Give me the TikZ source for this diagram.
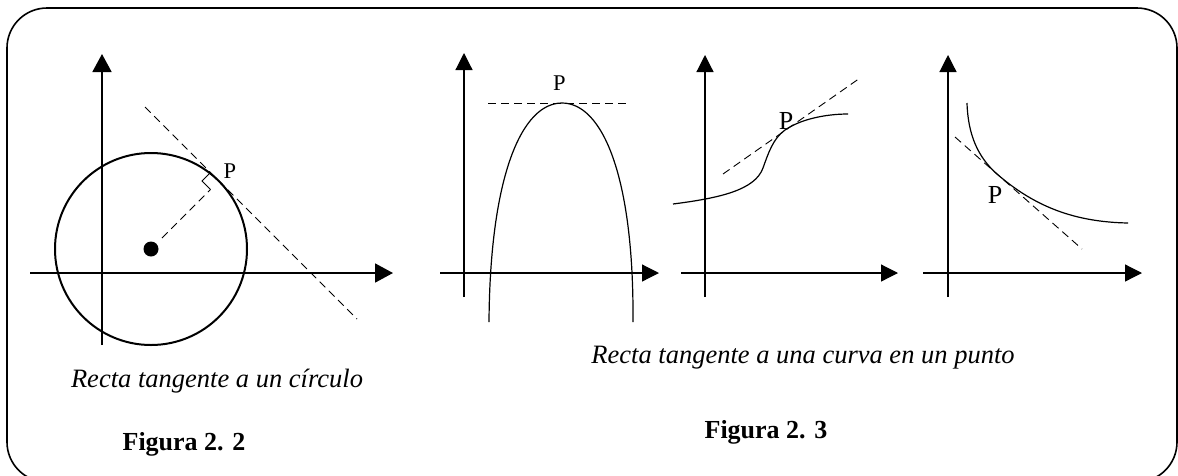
\documentclass[tikz,border=0pt]{standalone}
\usepackage{fontspec}
\setmainfont{Liberation Serif}
\usetikzlibrary{arrows.meta}
\begin{document}
\begin{tikzpicture}[x=1pt,y=-1pt,
  axisthick/.style={line width=1.8pt,-{Triangle[length=18pt,width=19pt]}},
  axisthin/.style={line width=1.2pt,-{Triangle[length=17pt,width=17pt]}},
  curvethick/.style={line width=2pt},
  curvethin/.style={line width=1.2pt},
  tang/.style={line width=0.9pt,dash pattern=on 8pt off 5pt},
  lblsmall/.style={inner sep=0pt,anchor=base,font=\fontsize{22.5}{26}\selectfont},
  lblbig/.style={inner sep=0pt,anchor=base,font=\fontsize{26}{30}\selectfont},
  captiontext/.style={inner sep=0pt,anchor=base,font=\fontsize{26.5}{30}\selectfont\itshape},
  figlbl/.style={inner sep=0pt,anchor=base,font=\fontsize{26}{30}\selectfont\bfseries}]
\useasboundingbox (0,0) rectangle (1178,475);
\clip (0,0) rectangle (1178,475);
% frame
\draw[line width=1.6pt, rounded corners=40pt] (7,8) rectangle (1177,482);

% ---------- Figura 2.2 ----------
\coordinate (yb1) at (102,345); \coordinate (yt1) at (102,54);
\coordinate (xl1) at (30,273);  \coordinate (xr1) at (393,273);
\coordinate (o1) at (151,249);
\coordinate (ta1) at (145,107); \coordinate (tb1) at (357,319);
\coordinate (ra1) at (162,238); \coordinate (m1) at (210.5,189.5);
\coordinate (m2) at (202,181);  \coordinate (m3) at (210.5,172.5);
\draw[axisthick] (yb1) -- (yt1);
\draw[axisthick] (xl1) -- (xr1);
\draw[curvethick] (o1) circle[radius=96pt];
\fill (o1) circle[radius=7.5pt];
\draw[tang] (ta1) -- (tb1);
\draw[tang] (ra1) -- (m1);
\draw[line width=0.9pt] (m3) -- (m2) -- (m1);
\node[lblsmall] (p1) at (230,178) {P};
\node[captiontext] (cap1) at (217,387) {Recta tangente a un círculo};
\node[figlbl] (fig1) at (184,450) {Figura 2. 2};

% ---------- Figura 2.3 : panel A ----------
\coordinate (yba) at (464,297); \coordinate (yta) at (464,53);
\coordinate (xla) at (440,273); \coordinate (xra) at (659,273);
\coordinate (vA) at (562,103);
\coordinate (tla) at (488,103); \coordinate (tra) at (628,103);
\draw[axisthin] (yba) -- (yta);
\draw[axisthin] (xla) -- (xra);
\draw[curvethin] (489,322) .. controls (490,175) and (522,103) .. (vA)
  .. controls (602,103) and (634,175) .. (633,322);
\draw[tang] (tla) -- (tra);
\node[lblsmall] (pA) at (559.5,90) {P};

% ---------- panel B ----------
\coordinate (ybb) at (705,297); \coordinate (ytb) at (705,55);
\coordinate (xlb) at (681,273); \coordinate (xrb) at (898,273);
\coordinate (tB) at (785,130);
\coordinate (tlb) at (723,174); \coordinate (trb) at (860,78);
\draw[axisthin] (ybb) -- (ytb);
\draw[axisthin] (xlb) -- (xrb);
\draw[curvethin] (673,204) .. controls (720,198) and (755,190) .. (763,168)
  .. controls (768,154) and (773,138.4) .. (tB)
  .. controls (800,119.5) and (825,114) .. (848,114);
\draw[tang] (tlb) -- (trb);
\node[lblbig] (pB) at (786,129) {P};

% ---------- panel C ----------
\coordinate (ybc) at (948,297); \coordinate (ytc) at (948,55);
\coordinate (xlc) at (923,273); \coordinate (xrc) at (1142,273);
\coordinate (tC) at (997,174);
\coordinate (tlc) at (955,137); \coordinate (trc) at (1082,249);
\draw[axisthin] (ybc) -- (ytc);
\draw[axisthin] (xlc) -- (xrc);
\draw[curvethin] (967,103) .. controls (968,135) and (978,157.3) .. (tC)
  .. controls (1035,207) and (1075,222) .. (1128,223);
\draw[tang] (tlc) -- (trc);
\node[lblbig] (pC) at (995,203) {P};

\node[captiontext] (cap2) at (803,363) {Recta tangente a una curva en un punto};
\node[figlbl] (fig2) at (766,438) {Figura 2. 3};
\end{tikzpicture}
\end{document}
